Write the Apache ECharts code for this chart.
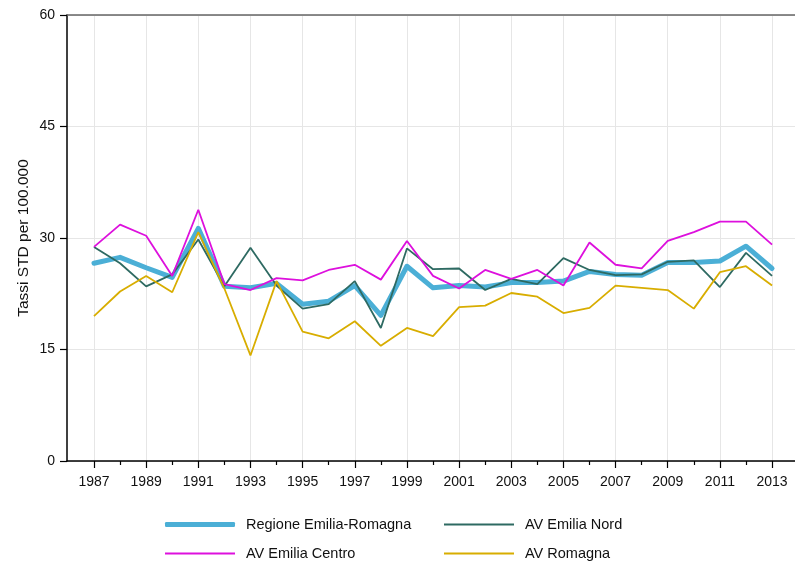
<!DOCTYPE html>
<html>
<head>
<meta charset="utf-8">
<script src="https://cdn.jsdelivr.net/npm/echarts@6/dist/echarts.min.js"></script>
<style>
  html, body { margin: 0; padding: 0; background: #fff; }
  #main { width: 795px; height: 562px; }
</style>
</head>
<body>
<div id="main"></div>
<script>
const years = [1987, 1988, 1989, 1990, 1991, 1992, 1993, 1994, 1995, 1996, 1997, 1998, 1999, 2000,
  2001, 2002, 2003, 2004, 2005, 2006, 2007, 2008, 2009, 2010, 2011, 2012, 2013]
const oddYears = years.filter(y => y % 2 === 1)
const evenYears = years.filter(y => y % 2 === 0)

const regione = [26.6, 27.4, 26.0, 24.7, 31.3, 23.5, 23.3, 23.9, 21.1, 21.5, 23.6, 19.6, 26.2, 23.3,
  23.6, 23.4, 24.0, 24.0, 24.2, 25.5, 25.1, 25.0, 26.7, 26.7, 26.9, 28.9, 25.9]
const nord = [28.8, 26.6, 23.5, 25.1, 29.8, 23.5, 28.7, 23.6, 20.5, 21.1, 24.2, 17.9, 28.6, 25.8,
  25.9, 23.0, 24.5, 23.8, 27.3, 25.7, 25.0, 25.1, 26.8, 27.0, 23.4, 28.0, 24.9]
const centro = [28.8, 31.8, 30.3, 24.9, 33.8, 23.8, 23.0, 24.6, 24.3, 25.7, 26.4, 24.4, 29.6, 24.9,
  23.2, 25.7, 24.5, 25.7, 23.6, 29.4, 26.4, 25.9, 29.6, 30.8, 32.2, 32.2, 29.1]
const romagna = [19.5, 22.8, 24.9, 22.7, 30.8, 23.2, 14.2, 24.2, 17.4, 16.5, 18.8, 15.5, 17.9, 16.8,
  20.7, 20.9, 22.6, 22.1, 19.9, 20.6, 23.6, 23.3, 23.0, 20.5, 25.4, 26.2, 23.6]

const font = 'Liberation Sans, Arial, sans-serif'
const pairs = vals => years.map((y, i) => [y, vals[i]])

const myChart = echarts.init(document.getElementById('main'), null, { renderer: 'canvas' })

const legendBase = {
  orient: 'horizontal',
  padding: 0,
  itemWidth: 70,
  textStyle: { fontFamily: font, fontSize: 14.5, color: '#111', padding: [0, 0, 0, 6] }
}

const option = {
  backgroundColor: '#fff',
  animation: false,
  grid: { left: 67, right: 0, top: 15, bottom: 101 },
  legend: [
    { ...legendBase, data: ['Regione Emilia-Romagna'], left: 165, top: 517, icon: 'roundRect', itemHeight: 5 },
    { ...legendBase, data: ['AV Emilia Nord'], left: 444, top: 517, icon: 'rect', itemHeight: 2 },
    { ...legendBase, data: ['AV Emilia Centro'], left: 165, top: 546, icon: 'rect', itemHeight: 2 },
    { ...legendBase, data: ['AV Romagna'], left: 444, top: 546, icon: 'rect', itemHeight: 2 }
  ],
  xAxis: [
    {
      type: 'value',
      position: 'bottom',
      min: 1985.965,
      max: 2013.88,
      axisLine: { show: true, lineStyle: { color: '#000', width: 1.5 } },
      axisTick: { show: true, length: 7, customValues: oddYears, lineStyle: { color: '#000', width: 1.2 } },
      axisLabel: { customValues: oddYears, margin: 14, fontFamily: font, fontSize: 14, color: '#111', formatter: v => String(v) },
      splitLine: { show: true, lineStyle: { color: '#e6e6e6', width: 1 } }
    },
    {
      type: 'value',
      position: 'bottom',
      min: 1985.965,
      max: 2013.88,
      axisLine: { show: false },
      axisTick: { show: true, length: 4, customValues: evenYears, lineStyle: { color: '#000', width: 1.2 } },
      axisLabel: { show: false },
      splitLine: { show: false }
    },
    {
      type: 'value',
      position: 'top',
      min: 1985.965,
      max: 2013.88,
      axisLine: { show: true, lineStyle: { color: '#666', width: 1.5 } },
      axisTick: { show: false },
      axisLabel: { show: false },
      splitLine: { show: false }
    }
  ],
  yAxis: {
    type: 'value',
    min: 0,
    max: 60,
    interval: 15,
    name: 'Tassi STD per 100.000',
    nameLocation: 'middle',
    nameGap: 35,
    nameMoveOverlap: false,
    nameTextStyle: { fontFamily: font, fontSize: 15.5, color: '#111' },
    axisLine: { show: true, lineStyle: { color: '#000', width: 1.5 } },
    axisTick: { show: true, length: 7, lineStyle: { color: '#000', width: 1.2 } },
    axisLabel: { margin: 12, fontFamily: font, fontSize: 14, color: '#111' },
    splitLine: { show: true, lineStyle: { color: '#e6e6e6', width: 1 } }
  },
  series: [
    {
      name: 'Regione Emilia-Romagna',
      type: 'line',
      data: pairs(regione),
      showSymbol: false,
      color: '#4bafd6',
      lineStyle: { width: 5, cap: 'round', join: 'round' }
    },
    {
      name: 'AV Emilia Nord',
      type: 'line',
      data: pairs(nord),
      showSymbol: false,
      color: '#2e6a62',
      lineStyle: { width: 1.8 }
    },
    {
      name: 'AV Emilia Centro',
      type: 'line',
      data: pairs(centro),
      showSymbol: false,
      color: '#dd10dd',
      lineStyle: { width: 1.8 }
    },
    {
      name: 'AV Romagna',
      type: 'line',
      data: pairs(romagna),
      showSymbol: false,
      color: '#d8ad00',
      lineStyle: { width: 1.8 }
    }
  ]
}

myChart.setOption(option)
</script>
</body>
</html>
